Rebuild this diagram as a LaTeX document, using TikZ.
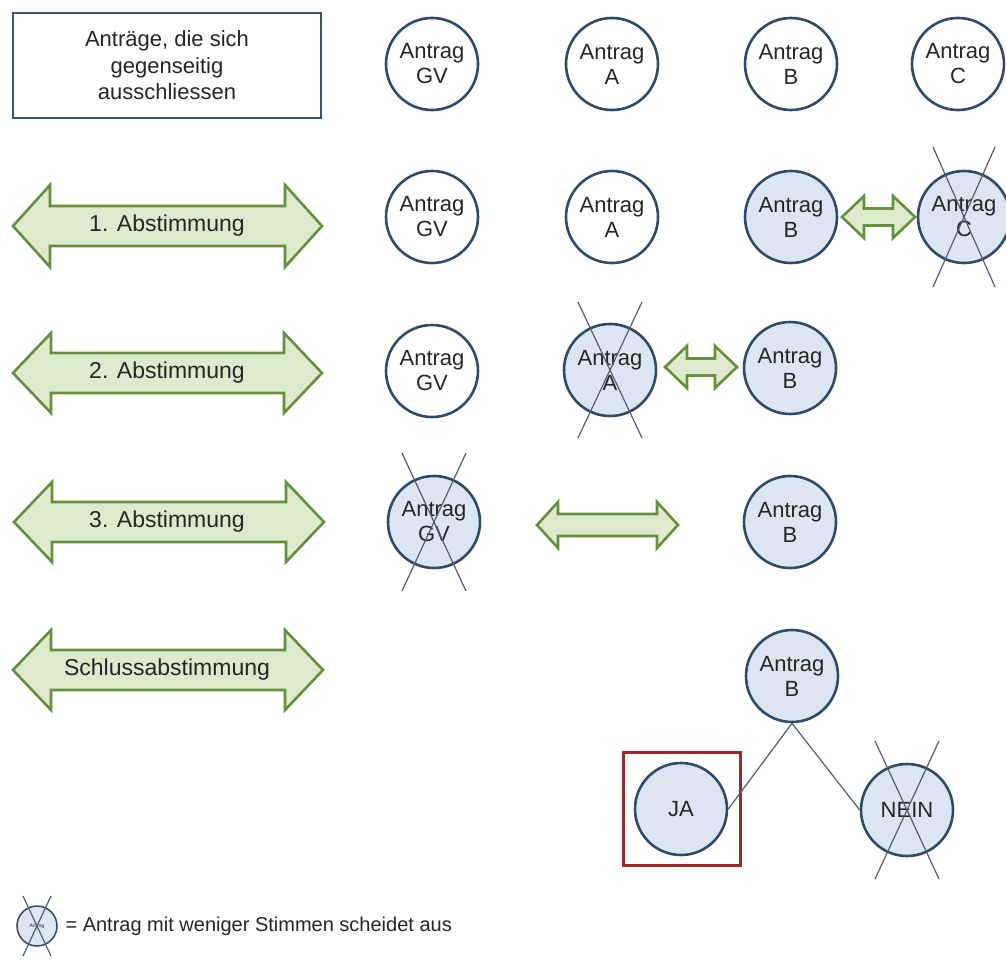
\documentclass[tikz,border=0pt]{standalone}
\usepackage{fontspec}
\setmainfont{Liberation Sans}
\definecolor{circ}{HTML}{2F4B6A}
\definecolor{cfill}{HTML}{DCE6F2}
\definecolor{agreen}{HTML}{66913B}
\definecolor{afill}{HTML}{DDEACD}
\definecolor{txt}{HTML}{262626}
\definecolor{xcol}{HTML}{4F6075}
\definecolor{boxcol}{HTML}{3E5266}
\definecolor{jared}{HTML}{9A2A2A}
\tikzset{
  antrag/.style={circle, draw=circ, line width=2.6pt, minimum size=92pt, inner sep=0pt,
    align=center, text=txt, font=\fontsize{22}{25}\selectfont},
  sel/.style={antrag, fill=cfill},
  xline/.style={draw=xcol, line width=1.2pt},
  arrowsty/.style={draw=agreen, fill=afill, line width=2.6pt, line join=miter},
  lbl/.style={text=txt, font=\fontsize{23}{27}\selectfont},
  conn/.style={draw=xcol, line width=1.2pt},
}
\newcommand\dbarrow[6]{%
  \draw[arrowsty] (#1,#3) -- (#1+#6,#3-#4) -- (#1+#6,#3-#5) -- (#2-#6,#3-#5) -- (#2-#6,#3-#4)
    -- (#2,#3) -- (#2-#6,#3+#4) -- (#2-#6,#3+#5) -- (#1+#6,#3+#5) -- (#1+#6,#3+#4) -- cycle;}
\newcommand\crossit[3]{%
  \draw[xline] ([shift={(-#2,-#3)}]#1.center) -- ([shift={(#2,#3)}]#1.center);
  \draw[xline] ([shift={(#2,-#3)}]#1.center) -- ([shift={(-#2,#3)}]#1.center);}
\begin{document}
\begin{tikzpicture}[x=1pt,y=-1pt]
\useasboundingbox[fill=white] (0,0) rectangle (1006,963);
% header box
\node[draw=boxcol, line width=1.4pt, minimum width=308pt, minimum height=105pt, align=center,
  text=txt, font=\fontsize{22}{26.5}\selectfont] (hdr) at (167,65.5)
  {Anträge, die sich\\gegenseitig\\ausschliessen};
% row 1
\node[antrag] (gv1) at (432,64) {Antrag\\GV};
\node[antrag] (a1) at (612,64) {Antrag\\A};
\node[antrag] (b1) at (791,64) {Antrag\\B};
\node[antrag] (c1) at (958,64) {Antrag\\C};
% row 2
\dbarrow{13}{322}{226}{41}{20}{37}
\node[lbl] (l1) at (167,226) {1. Abstimmung};
\node[antrag] (gv2) at (432,217) {Antrag\\GV};
\node[antrag] (a2) at (612,217) {Antrag\\A};
\node[sel] (b2) at (791,217) {Antrag\\B};
\node[sel] (c2) at (964,217) {Antrag\\C};
\crossit{c2}{31}{70}
\dbarrow{842}{915}{217}{21}{8.5}{22}
% row 3
\dbarrow{13}{322}{373}{40}{20}{38}
\node[lbl] (l2) at (167,373) {2. Abstimmung};
\node[antrag] (gv3) at (432,371) {Antrag\\GV};
\node[sel] (a3) at (610,370) {Antrag\\A};
\crossit{a3}{32}{68}
\node[sel] (b3) at (790,368) {Antrag\\B};
\dbarrow{665}{737}{367}{21}{8.5}{22}
% row 4
\dbarrow{14}{324}{522}{40}{20}{38}
\node[lbl] (l3) at (167,522) {3. Abstimmung};
\node[sel] (gv4) at (434,522) {Antrag\\GV};
\crossit{gv4}{32}{69}
\dbarrow{537}{678}{525}{23}{11}{21}
\node[sel] (b4) at (790,522) {Antrag\\B};
% row 5
\dbarrow{13}{323}{670}{40}{20}{38}
\node[lbl] (l4) at (167,670) {Schlussabstimmung};
\node[sel] (b5) at (792,676) {Antrag\\B};
\node[draw=jared, line width=3pt, minimum width=117pt, minimum height=113pt] (jabox) at (682,809) {};
\node[sel] (ja) at (681,809) {JA};
\node[sel] (nein) at (907,810) {NEIN};
\crossit{nein}{32}{69}
\draw[conn] (b5.south) -- (ja.east);
\draw[conn] (b5.south) -- (nein.west);
% legend
\node[sel, minimum size=40pt, line width=1.5pt, font=\fontsize{5}{5}\selectfont] (leg) at (37,926) {Antrag};
\crossit{leg}{14}{30}
\node[anchor=west, text=txt, font=\fontsize{20}{24}\selectfont] (legt) at (62,926)
  {= Antrag mit weniger Stimmen scheidet aus};
\end{tikzpicture}
\end{document}
